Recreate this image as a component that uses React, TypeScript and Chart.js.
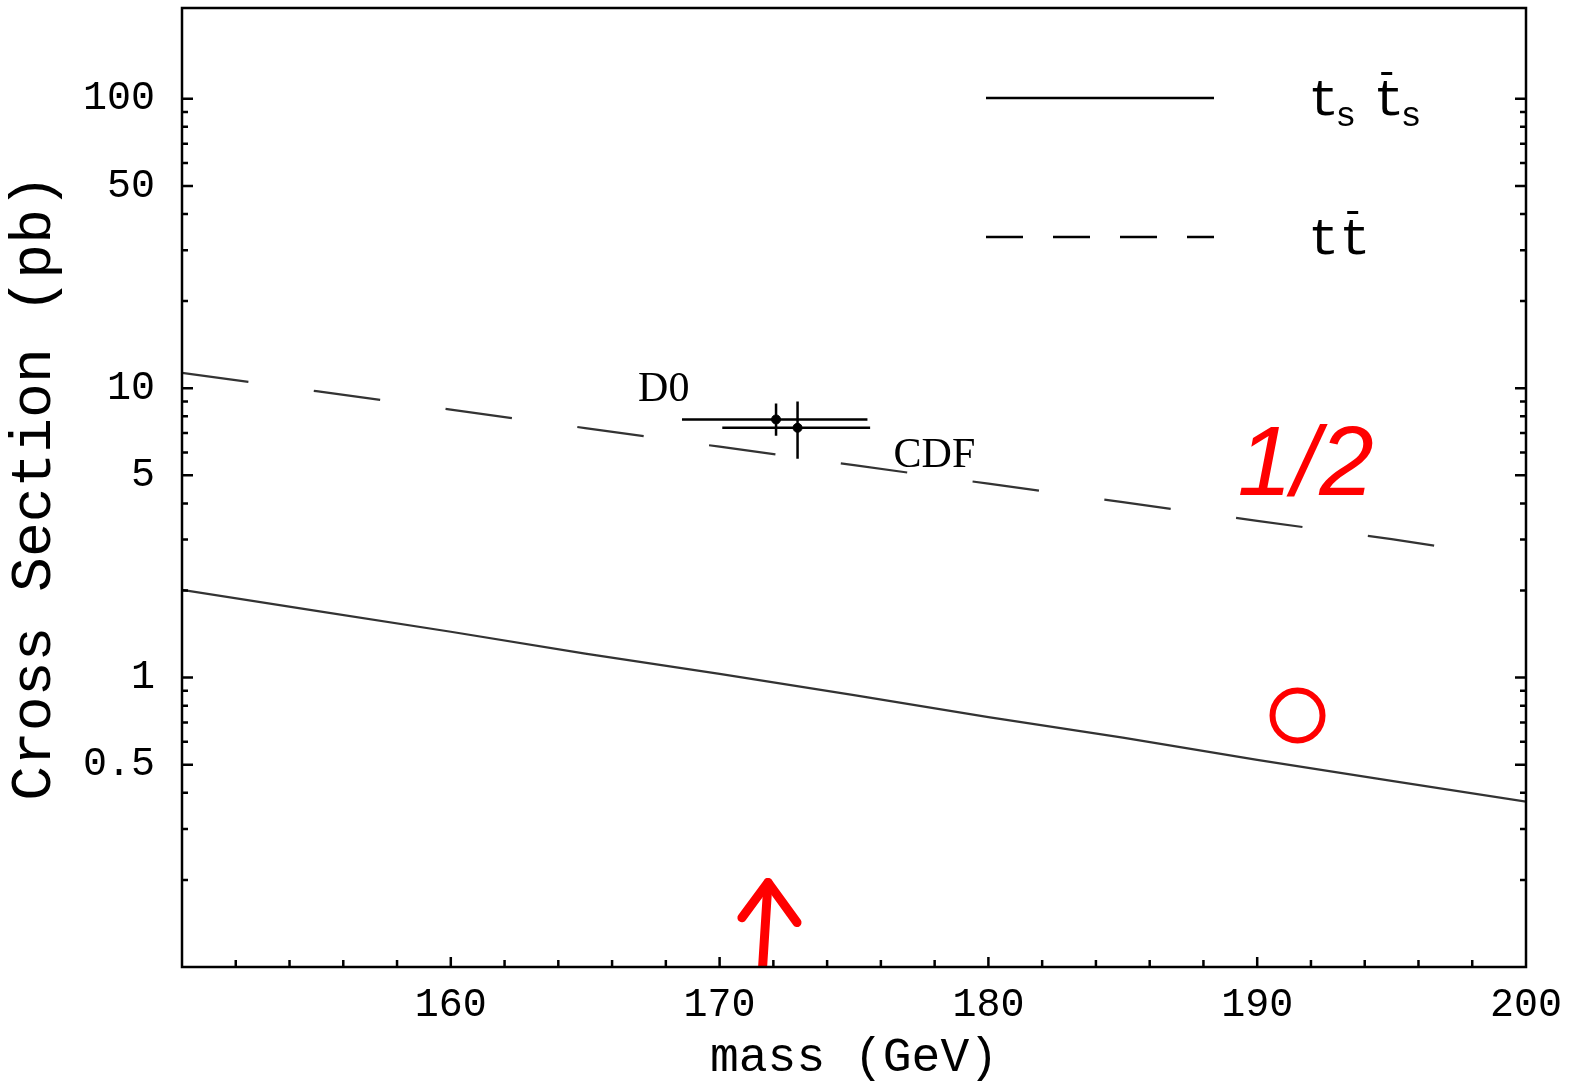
import React, { useEffect, useRef } from "react";
import { Chart, registerables } from "chart.js";

Chart.register(...registerables);

// ---- data ----
const stopMass = [150, 155, 160, 165, 170, 175, 180, 185, 190, 195, 200];
const stopCrossSection = [2.01, 1.7, 1.44, 1.21, 1.03, 0.87, 0.73, 0.62, 0.52, 0.44, 0.373];

const topMass = [150, 155, 160, 165, 170, 175, 180, 185, 190, 195, 197.1];
const topCrossSection = [11.3, 9.77, 8.43, 7.28, 6.28, 5.42, 4.68, 4.04, 3.48, 3.01, 2.81];

const expLabels = ["D0", "CDF"];
const expMass = [172.1, 172.9];
const expMassLo = [168.6, 170.1];
const expMassHi = [175.5, 175.6];
const expXsec = [7.8, 7.3];
const expXsecLo = [6.85, 5.7];
const expXsecHi = [8.85, 9.0];

const xTickValues = [160, 170, 180, 190, 200];
const xMinorTicks = [152, 154, 156, 158, 162, 164, 166, 168, 172, 174, 176, 178, 182, 184, 186, 188, 192, 194, 196, 198];
const xMajorMarks = [160, 170, 180, 190];
const yTickValues = [0.5, 1, 5, 10, 50, 100];
const yMinorTicks = [0.2, 0.3, 0.4, 0.6, 0.7, 0.8, 0.9, 2, 3, 4, 6, 7, 8, 9, 20, 30, 40, 60, 70, 80, 90];

const legendLabels = [["t", "s", "t\u0304", "s"], ["t", "", "t\u0304", ""]];

// hand-drawn red annotations (data coordinates)
const arrowShaftMass = [171.6, 171.8];
const arrowShaftXsec = [0.1, 0.196];
const arrowHeadMass = [170.83, 171.8, 172.88];
const arrowHeadXsec = [0.148, 0.196, 0.1425];
const circleMass = [191.5];
const circleXsec = [0.74];
const noteText = "1/2";
const noteMass = 191.8;
const noteXsec = 5.3;

const MONO = "'Liberation Mono', 'Courier New', monospace";
const SERIF = "'Liberation Serif', 'Times New Roman', serif";

const pts = (xs: number[], ys: number[]) => xs.map((x, i) => ({ x, y: ys[i] }));

const overlayPlugin = {
  id: "overlay",
  afterDatasetsDraw(chart: any) {
    const { ctx, chartArea: a, scales } = chart;
    const x = scales.x;
    const y = scales.y;
    ctx.save();

    // error bars
    ctx.strokeStyle = "#000";
    ctx.lineWidth = 2.5;
    expMass.forEach((m: number, i: number) => {
      const px = x.getPixelForValue(m);
      const py = y.getPixelForValue(expXsec[i]);
      ctx.beginPath();
      ctx.moveTo(x.getPixelForValue(expMassLo[i]), py);
      ctx.lineTo(x.getPixelForValue(expMassHi[i]), py);
      ctx.moveTo(px, y.getPixelForValue(expXsecLo[i]));
      ctx.lineTo(px, y.getPixelForValue(expXsecHi[i]));
      ctx.stroke();
    });

    // experiment labels
    ctx.fillStyle = "#000";
    ctx.font = `42px ${SERIF}`;
    ctx.textBaseline = "alphabetic";
    ctx.textAlign = "left";
    const labelOffsets = [
      [-138, -18],
      [96, 39],
    ];
    expLabels.forEach((lab, i) => {
      const px = x.getPixelForValue(expMass[i]);
      const py = y.getPixelForValue(expXsec[i]);
      ctx.fillText(lab, px + labelOffsets[i][0], py + labelOffsets[i][1]);
    });

    // legend
    const lx0 = a.left + 804;
    const lx1 = a.left + 1032;
    const rows = [a.top + 90, a.top + 229];
    ctx.lineWidth = 2.5;
    ctx.strokeStyle = "#000";
    ctx.beginPath();
    ctx.moveTo(lx0, rows[0]);
    ctx.lineTo(lx1, rows[0]);
    ctx.stroke();
    ctx.setLineDash([37, 30]);
    ctx.beginPath();
    ctx.moveTo(lx0, rows[1]);
    ctx.lineTo(lx1, rows[1]);
    ctx.stroke();
    ctx.setLineDash([]);
    legendLabels.forEach((parts, r) => {
      const base = rows[r] + 17;
      let cx = a.left + 1126;
      parts.forEach((p, k) => {
        if (k % 2 === 0) {
          ctx.font = `52px ${MONO}`;
          const ch = p.charAt(0);
          ctx.fillText(ch, cx, base);
          const w = ctx.measureText(ch).width;
          if (p.length > 1) {
            ctx.fillRect(cx + 8, base - 43, 11, 3);
          }
          cx += w;
        } else {
          ctx.font = `35px ${MONO}`;
          if (p) {
            ctx.fillText(p, cx - 4, base + 11);
            cx += ctx.measureText(p).width + 13;
          }
        }
      });
    });

    // handwritten note
    ctx.fillStyle = "#ff0000";
    ctx.font = `italic 98px 'Liberation Sans', sans-serif`;
    ctx.textAlign = "center";
    ctx.textBaseline = "middle";
    ctx.fillText(noteText, x.getPixelForValue(noteMass), y.getPixelForValue(noteXsec));

    // frame
    ctx.strokeStyle = "#000";
    ctx.lineWidth = 2.5;
    ctx.strokeRect(a.left, a.top, a.right - a.left, a.bottom - a.top);

    // inward ticks
    ctx.lineWidth = 2.5;
    ctx.beginPath();
    const yt = (v: number, len: number) => {
      const py = y.getPixelForValue(v);
      ctx.moveTo(a.left, py);
      ctx.lineTo(a.left + len, py);
      ctx.moveTo(a.right, py);
      ctx.lineTo(a.right - len, py);
    };
    yTickValues.forEach((v) => yt(v, 11));
    yMinorTicks.forEach((v) => yt(v, 6));
    const xt = (v: number, len: number) => {
      const px = x.getPixelForValue(v);
      ctx.moveTo(px, a.bottom);
      ctx.lineTo(px, a.bottom - len);
    };
    xMajorMarks.forEach((v) => xt(v, 10));
    xMinorTicks.forEach((v) => xt(v, 7));
    ctx.stroke();

    ctx.restore();
  },
};

export default function App() {
  const ref = useRef<HTMLCanvasElement | null>(null);
  useEffect(() => {
    if (!ref.current) return;
    const chart = new Chart(ref.current, {
      type: "scatter",
      data: {
        datasets: [
          {
            data: pts(stopMass, stopCrossSection),
            showLine: true,
            borderColor: "#333",
            borderWidth: 2.2,
            pointRadius: 0,
          },
          {
            data: pts(topMass, topCrossSection),
            showLine: true,
            borderColor: "#333",
            borderWidth: 2.2,
            borderDash: [67, 66],
            pointRadius: 0,
          },
          {
            data: pts(expMass, expXsec),
            showLine: false,
            pointRadius: 4.5,
            backgroundColor: "#000",
            borderColor: "#000",
          },
          {
            data: pts(arrowShaftMass, arrowShaftXsec),
            showLine: true,
            borderColor: "#ff0000",
            borderWidth: 9,
            borderCapStyle: "round",
            pointRadius: 0,
          },
          {
            data: pts(arrowHeadMass, arrowHeadXsec),
            showLine: true,
            borderColor: "#ff0000",
            borderWidth: 9,
            borderCapStyle: "round",
            borderJoinStyle: "round",
            pointRadius: 0,
          },
          {
            data: pts(circleMass, circleXsec),
            showLine: false,
            pointRadius: 25,
            pointBorderWidth: 6,
            borderColor: "#ff0000",
            backgroundColor: "rgba(0,0,0,0)",
          },
        ] as any,
      },
      options: {
        animation: false,
        responsive: false,
        devicePixelRatio: 1,
        layout: { autoPadding: false, padding: { top: 8, right: 45, left: 0, bottom: 0 } },
        plugins: { legend: { display: false }, tooltip: { enabled: false } },
        scales: {
          x: {
            type: "linear",
            min: 150,
            max: 200,
            grid: { display: false, drawTicks: false },
            border: { display: false },
            afterBuildTicks: (s: any) => {
              s.ticks = xTickValues.map((v) => ({ value: v }));
            },
            afterFit: (s: any) => {
              s.height = 121;
              s.paddingLeft = 0;
              s.paddingRight = 0;
            },
            ticks: {
              color: "#000",
              font: { family: MONO, size: 40 },
              padding: 14,
              maxRotation: 0,
              autoSkip: false,
              callback: (v: any) => String(v),
            },
            title: {
              display: true,
              text: "mass (GeV)",
              color: "#000",
              font: { family: MONO, size: 48 },
              padding: { top: 0, bottom: 1 },
            },
          },
          y: {
            type: "logarithmic",
            min: 0.1,
            max: 206,
            grid: { display: false, drawTicks: false },
            border: { display: false },
            afterBuildTicks: (s: any) => {
              s.ticks = yTickValues.map((v) => ({ value: v }));
            },
            afterFit: (s: any) => {
              s.width = 182;
              s.paddingTop = 0;
              s.paddingBottom = 0;
            },
            ticks: {
              color: "#000",
              font: { family: MONO, size: 40 },
              padding: 27,
              autoSkip: false,
              callback: (v: any) => String(v),
            },
            title: {
              display: true,
              text: "Cross Section (pb)",
              color: "#000",
              font: { family: MONO, size: 58 },
              padding: { top: 0, bottom: 0 },
            },
          },
        },
      } as any,
      plugins: [overlayPlugin],
    });
    return () => chart.destroy();
  }, []);
  return (
    <div style={{ position: "fixed", left: 0, top: 0, width: 1571, height: 1088, background: "#fff" }}>
      <canvas ref={ref} width={1571} height={1088} style={{ display: "block", width: 1571, height: 1088 }} />
    </div>
  );
}
